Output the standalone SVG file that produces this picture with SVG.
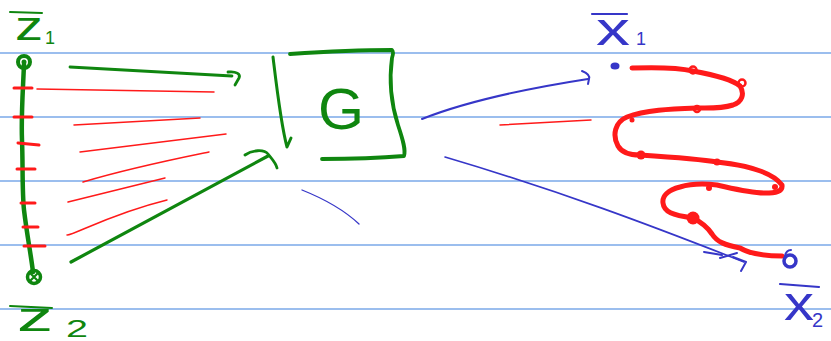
<svg xmlns="http://www.w3.org/2000/svg" width="831" height="341" viewBox="0 0 831 341">
<style>
.rule{stroke:#7aa8e8;stroke-width:1.3;fill:none}
.g{stroke:#0f860f;fill:none;stroke-linecap:round;stroke-linejoin:round}
.r{stroke:#ff1a1a;fill:none;stroke-linecap:round;stroke-linejoin:round}
.b{stroke:#3636c8;fill:none;stroke-linecap:round;stroke-linejoin:round}
.tg{fill:#0f860f;font-family:"Liberation Sans",Arial,sans-serif}
.tb{fill:#3636c8;font-family:"Liberation Sans",Arial,sans-serif}
</style>
<rect width="831" height="341" fill="#ffffff"/>
<g id="ruling">
<line class="rule" x1="0" y1="53" x2="831" y2="53"/>
<line class="rule" x1="0" y1="117" x2="831" y2="117"/>
<line class="rule" x1="0" y1="181" x2="831" y2="181"/>
<line class="rule" x1="0" y1="245" x2="831" y2="245"/>
<line class="rule" x1="0" y1="309" x2="831" y2="309"/>
</g>
<g id="z-segment">
<path class="g" stroke-width="4.5" d="M24,64 C23,90 21,115 22,140 C23,165 22,190 24,210 C27,235 31,255 33,272"/>
<circle class="g" stroke-width="4" cx="24" cy="62" r="6"/>
<circle cx="24" cy="62" r="2.5" fill="#0f860f"/>
<circle class="g" stroke-width="3.5" cx="34" cy="277" r="6.5"/>
<path class="g" stroke-width="2.2" d="M30,273 L38,281 M38,273 L30,281"/>
<path class="r" stroke-width="3" d="M14,88 L32,88 M14,117 L32,117 M18,143 L39,145 M17,169 L35,169 M21,203 L35,203 M23,227 L38,227 M24,246 L45,246"/>
<line class="g" stroke-width="2" x1="10" y1="12" x2="42" y2="13"/>
<text class="tg" x="15" y="40" font-size="40" textLength="28" lengthAdjust="spacingAndGlyphs">z</text>
<text class="tg" x="45" y="44" font-size="18">1</text>
<line class="g" stroke-width="2" x1="10" y1="306" x2="52" y2="308"/>
<text class="tg" x="17" y="331" font-size="40" textLength="36" lengthAdjust="spacingAndGlyphs">z</text>
<text class="tg" x="66" y="337" font-size="24" textLength="22" lengthAdjust="spacingAndGlyphs">2</text>
</g>
<g id="rays">
<path class="r" stroke-width="1.5" d="M37,89 L214,92"/>
<path class="r" stroke-width="1.5" d="M74,125 L200,118"/>
<path class="r" stroke-width="1.5" d="M80,152 L226,134"/>
<path class="r" stroke-width="1.5" d="M83,182 C130,168 170,160 209,152"/>
<path class="r" stroke-width="1.5" d="M68,202 L165,178"/>
<path class="r" stroke-width="1.5" d="M67,235 C72,236 110,214 167,200"/>
<path class="r" stroke-width="1.5" d="M500,125 L591,120"/>
</g>
<g id="connectors">
<path class="g" stroke-width="2.8" d="M70,67 L232,76"/>
<path class="g" stroke-width="2.8" d="M228,72 C236,71 241,74 239,78 L235,85"/>
<path class="g" stroke-width="3.2" d="M71,262 L268,156"/>
<path class="g" stroke-width="2.8" d="M245,155 C252,150 264,149 268,154 C272,159 276,163 277,168"/>
<path class="b" stroke-width="2" d="M422,119 C470,100 530,88 588,79"/>
<path class="b" stroke-width="2" d="M582,71 C587,73 590,76 589,79 L588,84"/>
<path class="b" stroke-width="1.6" d="M445,157 C560,191 650,225 744,262"/>
<path class="b" stroke-width="2" d="M704,252 L722,255 M720,258 L737,253 M733,257 L746,262 L741,271"/>
<path class="b" stroke-width="1.3" d="M302,190 C322,198 342,208 359,224"/>
</g>
<g id="G-box">
<path class="g" stroke-width="3" d="M273,57 C277,90 281,125 287,147 L291,138"/>
<path class="g" stroke-width="3.8" d="M290,54 C320,52 360,50 392,50 C394,52 393,55 392,58 C389,80 390,100 398,125 C403,140 406,150 404,156 C380,158 350,159 322,159"/>
<text class="tg" x="318" y="129" font-size="58" textLength="46" lengthAdjust="spacingAndGlyphs">G</text>
</g>
<g id="x-curve">
<path class="r" stroke-width="5" d="M632,68 C660,67 680,68 693,71 C715,75 733,80 740,86 C745,94 742,102 733,105 C720,109 705,108 697,108 C670,109 645,110 627,117 C615,122 612,135 618,146 C622,153 630,155 640,155 C670,157 700,159 717,162 C745,165 772,172 782,185 C783,192 775,193 765,193 C750,193 735,189 717,185 C700,183 690,184 680,187 C668,190 662,196 663,203 C664,212 672,215 693,218 C703,223 708,228 712,234 C717,242 725,245 740,248 C750,254 765,256 782,256"/>
<circle cx="693" cy="70" r="3.5" class="r" stroke-width="2.5"/>
<circle cx="742" cy="83" r="3.5" class="r" stroke-width="2.5"/>
<circle cx="697" cy="109" r="3" class="r" stroke-width="2.5"/>
<circle cx="632" cy="120" r="2.5" fill="#ff1a1a"/>
<circle cx="641" cy="155" r="4.5" fill="#ff1a1a"/>
<circle cx="717" cy="162" r="3.5" fill="#ff1a1a"/>
<circle cx="775" cy="187" r="3" fill="#ff1a1a"/>
<circle cx="709" cy="188" r="3" fill="#ff1a1a"/>
<circle cx="693" cy="218" r="6.5" fill="#ff1a1a"/>
</g>
<g id="x-points">
<ellipse cx="615" cy="66" rx="4.5" ry="3.5" fill="#3636c8"/>
<circle class="b" stroke-width="3.5" cx="790" cy="261" r="6"/>
<path class="b" stroke-width="2" d="M785,256 C786,251 789,250 791,250"/>
<line class="b" stroke-width="2.2" x1="592" y1="14" x2="627" y2="14"/>
<text class="tb" x="596" y="45" font-size="46" textLength="34" lengthAdjust="spacingAndGlyphs">x</text>
<text class="tb" x="636" y="45" font-size="18">1</text>
<line class="b" stroke-width="2.2" x1="780" y1="284" x2="819" y2="287"/>
<text class="tb" x="784" y="320" font-size="48" textLength="30" lengthAdjust="spacingAndGlyphs">x</text>
<text class="tb" x="812" y="327" font-size="20">2</text>
</g>
</svg>
